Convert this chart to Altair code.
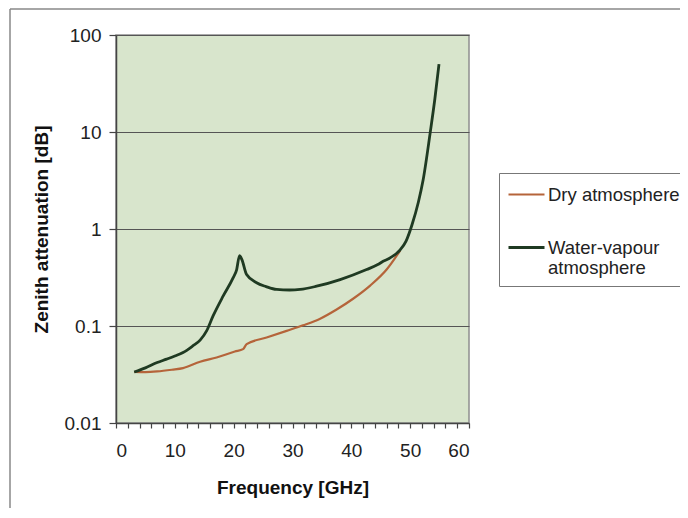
import altair as alt
import pandas as pd

# Dry atmosphere (frequency in GHz, zenith attenuation in dB)
freq_dry = [3.1, 5.0, 7.0, 9.5, 11.4, 14.3, 17.1, 20.2, 21.6, 22.2, 25.6, 29.0,
            31.8, 34.7, 37.5, 40.3, 43.2, 46.0, 48.3]
att_dry = [0.0337, 0.0335, 0.034, 0.0354, 0.0368, 0.0428, 0.0474, 0.0546, 0.0577,
           0.065, 0.076, 0.089, 0.1016, 0.119, 0.148, 0.191, 0.261, 0.382, 0.60]

# Water-vapour atmosphere
freq_wv = [3.1, 5.0, 7.0, 8.6, 10.0, 11.4, 13.0, 14.3, 15.4, 16.5, 18.2, 19.9, 20.5,
           21.0, 21.4, 22.2, 23.9, 25.5, 27.3, 29.5, 31.3, 34.1, 38.1, 42.6, 44.5,
           45.4, 46.5, 48.3, 49.3, 50.3, 51.4, 52.2, 53.4, 54.2, 54.9]
att_wv = [0.0335, 0.037, 0.042, 0.0455, 0.049, 0.0533, 0.062, 0.0715, 0.089, 0.127,
          0.203, 0.313, 0.38, 0.531, 0.483, 0.339, 0.279, 0.255, 0.238, 0.235, 0.238,
          0.257, 0.301, 0.382, 0.43, 0.464, 0.50, 0.61, 0.75, 1.1, 1.9, 3.2, 9.8,
          22.0, 50.0]

series_names = ["Dry atmosphere", "Water-vapour atmosphere"]
series_colors = ["#b5643a", "#1f3a22"]
series_widths = [2.2, 2.8]
x_ticks = list(range(0, 61, 2))
y_ticks = [0.01, 0.1, 1, 10, 100]

df = pd.concat([
    pd.DataFrame({"freq": freq_dry, "att": att_dry, "series": series_names[0], "order": range(len(freq_dry))}),
    pd.DataFrame({"freq": freq_wv, "att": att_wv, "series": series_names[1], "order": range(len(freq_wv))}),
])

FONT = "Liberation Sans"

lines = alt.Chart(df).mark_line(interpolate="monotone").encode(
    x=alt.X("freq:Q", title="Frequency [GHz]",
            scale=alt.Scale(domain=[0, 60], nice=False),
            axis=alt.Axis(values=x_ticks, grid=False, tickSize=5, labelPadding=13,
                          labelExpr="datum.value % 10 == 0 ? datum.label : ''",
                          titlePadding=18)),
    y=alt.Y("att:Q", title="Zenith attenuation [dB]",
            scale=alt.Scale(type="log", domain=[0.01, 100], nice=False),
            axis=alt.Axis(values=y_ticks, format="~g", grid=True, gridColor="#555",
                          gridWidth=1, tickSize=7, labelPadding=8, titlePadding=13)),
    color=alt.Color("series:N",
                    scale=alt.Scale(domain=series_names, range=series_colors),
                    legend=alt.Legend(
                        title=None, orient="none", legendX=383, legendY=138,
                        symbolType="M -1.5,0 L 1.5,0", symbolStrokeWidth=3, symbolSize=576,
                        symbolOffset=6,
                        labelFont=FONT, labelFontSize=18.5, labelColor="#222",
                        labelExpr="datum.label == 'Water-vapour atmosphere' ? ['Water-vapour', 'atmosphere'] : datum.label",
                        labelLimit=400, labelOffset=8,
                        padding=8, rowPadding=30, fillColor="white", strokeColor="#777")),
    strokeWidth=alt.StrokeWidth("series:N",
                                scale=alt.Scale(domain=series_names, range=series_widths),
                                legend=None),
    order="order:Q",
)

frame_data = alt.Data(values=[{"k": 0}])
frame_left = alt.Chart(frame_data).mark_rule(color="#888", strokeWidth=1.5).encode(
    x=alt.value(-106), y=alt.value(-26), y2=alt.value(480))
frame_top = alt.Chart(frame_data).mark_rule(color="#888", strokeWidth=1.5).encode(
    x=alt.value(-106), x2=alt.value(600), y=alt.value(-26))

chart = alt.layer(frame_left, frame_top, lines).properties(
    width=353, height=388,
    autosize=alt.AutoSizeParams(type="none"),
    padding={"left": 108, "top": 27, "right": 211, "bottom": 85},
    background="white",
).configure_view(
    fill="#d8e5cc", stroke="#8f8f8f", strokeWidth=1.5
).configure_axis(
    labelFont=FONT, labelFontSize=19, labelColor="#222",
    titleFont=FONT, titleFontSize=19, titleFontWeight="bold", titleColor="#111",
    domainColor="#444", domainWidth=1.5, tickColor="#444", tickWidth=1.2,
)

chart.save("out.html", embed_options={"renderer": "svg", "actions": False})
